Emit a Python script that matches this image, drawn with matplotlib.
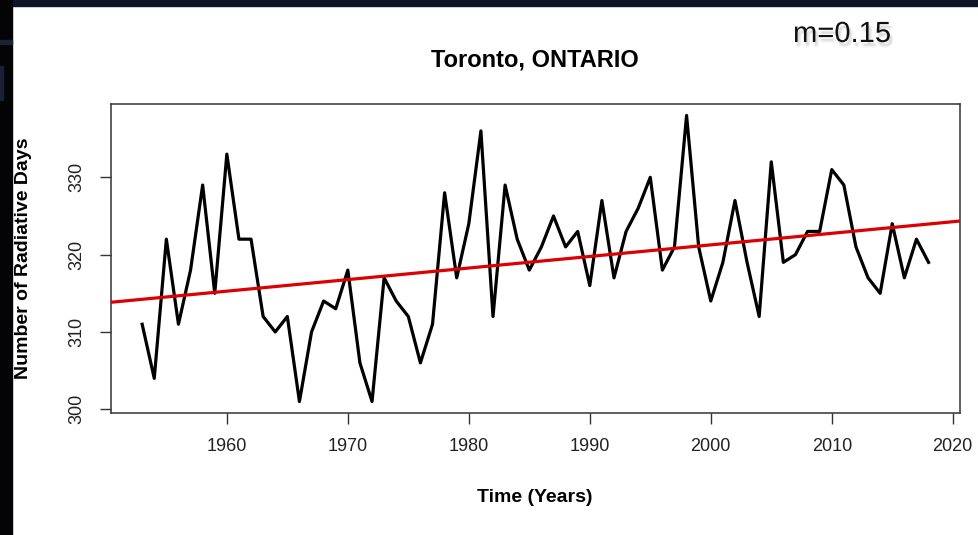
import matplotlib
matplotlib.use("Agg")
import matplotlib.pyplot as plt
import matplotlib.patheffects as pe
from matplotlib.patches import Rectangle
import numpy as np

plt.rcParams['font.family'] = ['Liberation Sans', 'DejaVu Sans']

# annual count of radiative days, Toronto
years = list(range(1953, 2019))
days = [311, 304, 322, 311, 318, 329, 315, 333, 322, 322,
        312, 310, 312, 301, 310, 314, 313, 318, 306, 301,
        317, 314, 312, 306, 311, 328, 317, 324, 336, 312,
        329, 322, 318, 321, 325, 321, 323, 316, 327, 317,
        323, 326, 330, 318, 321, 338, 321, 314, 319, 327,
        319, 312, 332, 319, 320, 323, 323, 331, 329, 321,
        317, 315, 324, 317, 322, 319]
xticks = [1960, 1970, 1980, 1990, 2000, 2010, 2020]
yticks = [300, 310, 320, 330]
slope_label = "m=0.15"

W, H = 979, 535
fig = plt.figure(figsize=(W / 100, H / 100), dpi=100, facecolor='white')

# dark slide background peeking out at the top and left
fig.patches.append(Rectangle((0, 1 - 6 / H), 1, 6 / H, transform=fig.transFigure,
                             color='#0d1526', zorder=0))
fig.patches.append(Rectangle((0, 0), 12 / W, 1, transform=fig.transFigure,
                             color='#040407', zorder=0))
fig.patches.append(Rectangle((0, 1 - 44 / H), 12 / W, 4 / H, transform=fig.transFigure,
                             color='#1c2136', zorder=0))
fig.patches.append(Rectangle((0, 1 - 100 / H), 3 / W, 34 / H, transform=fig.transFigure,
                             color='#1a1f38', zorder=0))

ax = fig.add_axes([110.7 / W, 1 - 413 / H, (960 - 110.7) / W, (413 - 104) / H])

# R-style 4% padding on both axes
xr = years[-1] - years[0]
yr = max(days) - min(days)
x0, x1 = years[0] - 0.04 * xr, years[-1] + 0.04 * xr
ax.set_xlim(x0, x1)
ax.set_ylim(min(days) - 0.04 * yr, max(days) + 0.04 * yr)

ax.plot(years, days, color='black', lw=2.3, solid_joinstyle='round', zorder=2)

b, a = np.polyfit(years, days, 1)
ax.plot([x0, x1], [a + b * x0, a + b * x1], color='#dd0000', lw=2.3, zorder=3)

ax.set_xticks(xticks)
ax.set_yticks(yticks)
ax.tick_params(direction='out', length=8, width=1, color='#333333',
               labelsize=13, labelcolor='#222222', pad=10)
for lab in ax.get_yticklabels():
    lab.set_rotation(90)
    lab.set_va('center')
for s in ax.spines.values():
    s.set_color('#333333')
    s.set_linewidth(1.1)

fig.text(535 / W, 1 - 66 / H, "Toronto, ONTARIO", ha='center', va='baseline',
         fontsize=17, fontweight='bold')
fig.text(535 / W, 1 - 502 / H, "Time (Years)", ha='center', va='baseline',
         fontsize=14, fontweight='bold')
fig.text(24 / W, 1 - 258.5 / H, "Number of Radiative Days", ha='center', va='center',
         rotation=90, fontsize=14, fontweight='bold')

# soft drop shadow under the slope label
shadow = [pe.SimplePatchShadow(offset=(dx, dy), shadow_rgbFace='#888888', alpha=0.08)
          for dx, dy in [(1, -2), (2, -3), (1.5, -4), (2.5, -2.5), (0.5, -3)]]
fig.text(793 / W, 1 - 42 / H, slope_label, ha='left', va='baseline', fontsize=21,
         color='#111111', path_effects=shadow + [pe.Normal()])

fig.savefig("out.png", dpi=100, facecolor=fig.get_facecolor())
